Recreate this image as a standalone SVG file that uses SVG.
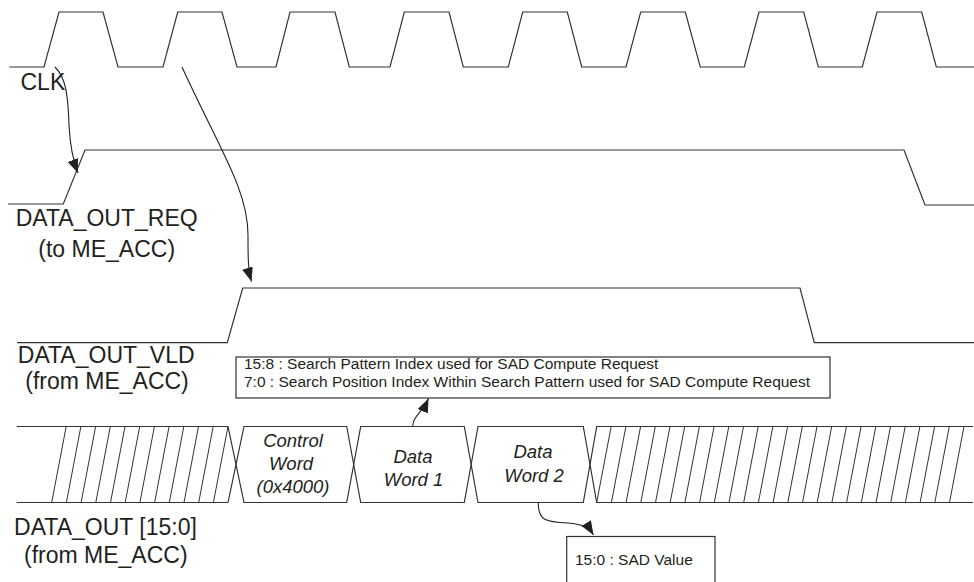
<svg xmlns="http://www.w3.org/2000/svg" width="974" height="582" viewBox="0 0 974 582">
<style>
  .wave { fill: none; stroke: #333; stroke-width: 1.2; stroke-linejoin: miter; }
  .hatch { fill: none; stroke: #333; stroke-width: 1; }
  .box { fill: #fff; stroke: #333; stroke-width: 1.2; }
  .lbl { font-family: "Liberation Sans", Arial, sans-serif; font-size: 23px; fill: #231f20; text-anchor: middle; }
  .cell { font-family: "Liberation Sans", Arial, sans-serif; font-size: 18.5px; font-style: italic; fill: #231f20; text-anchor: middle; }
  .note { font-family: "Liberation Sans", Arial, sans-serif; font-size: 15.5px; fill: #231f20; }
  .conn { fill: none; stroke: #231f20; stroke-width: 1.1; }
</style>
<defs>
  <marker id="ah" markerWidth="16" markerHeight="12" refX="14" refY="5.5" orient="auto" markerUnits="userSpaceOnUse">
    <path d="M0,0 L14,5.5 L0,11 Z" fill="#231f20"/>
  </marker>
</defs>
<rect width="974" height="582" fill="#fff"/>

<g id="clk">
  <path class="wave" d="M9.3,67 L44,67 L59,12 L103,12 L118,67 L163,67 L177.7,12 L222,12 L237,67 L276,67 L290,12 L335,12 L349.3,67 L390,67 L404.3,12 L449,12 L463.3,67 L508.3,67 L522.7,12 L567.3,12 L581.7,67 L626,67 L640.7,12 L685.3,12 L700.3,67 L744.3,67 L759,12 L803.7,12 L818.3,67 L862.3,67 L877,12 L921.7,12 L936.3,67 L974,67"/>
  <text class="lbl" x="20.5" y="89.5" style="text-anchor:start">CLK</text>
</g>

<g id="data_out_req">
  <path class="wave" d="M8,204 L63.3,204 L85,150 L904,150 L925,205 L974,205"/>
  <text class="lbl" x="106.7" y="225.7">DATA_OUT_REQ</text>
  <text class="lbl" x="106.7" y="256.7">(to ME_ACC)</text>
</g>

<g id="data_out_vld">
  <path class="wave" d="M17,342.7 L227.3,342.7 L242.7,288 L800,288 L814.3,342.7 L974,342.7"/>
  <text class="lbl" x="106.2" y="363.3">DATA_OUT_VLD</text>
  <text class="lbl" x="107" y="389.3">(from ME_ACC)</text>
</g>

<g id="index_note">
  <rect class="box" x="236" y="357" width="594" height="41"/>
  <text class="note" x="244" y="369">15:8 : Search Pattern Index used for SAD Compute Request</text>
  <text class="note" x="244" y="386.5">7:0 : Search Position Index Within Search Pattern used for SAD Compute Request</text>
</g>

<g id="data_out_bus">
  <path class="wave" d="M16.7,426.5 L228,426.5 M16.7,502.5 L228,502.5"/>
  <path class="hatch" d="M51.7,502.5 L66.2,426.5 M66.4,502.5 L80.9,426.5 M81.1,502.5 L95.6,426.5 M95.8,502.5 L110.3,426.5 M110.5,502.5 L125,426.5 M125.2,502.5 L139.7,426.5 M139.9,502.5 L154.4,426.5 M154.6,502.5 L169.1,426.5 M169.3,502.5 L183.8,426.5 M184,502.5 L198.5,426.5 M198.7,502.5 L213.2,426.5 M213.4,502.5 L228,426.5"/>
  <path class="wave" d="M228,426.5 L244,502.5 L346.7,502.5 L360.7,426.5 L464.3,426.5 L478,502.5 L583.3,502.5 L596.7,426.5 L973,426.5"/>
  <path class="wave" d="M228,502.5 L244,426.5 L346.7,426.5 L360.7,502.5 L464.3,502.5 L478,426.5 L583.3,426.5 L596.7,502.5 L973,502.5"/>
  <path class="hatch" d="M596.7,502.5 L611.2,426.5 M611.4,502.5 L625.9,426.5 M626.1,502.5 L640.6,426.5 M640.8,502.5 L655.3,426.5 M655.5,502.5 L670,426.5 M670.2,502.5 L684.7,426.5 M684.9,502.5 L699.4,426.5 M699.6,502.5 L714.1,426.5 M714.3,502.5 L728.8,426.5 M729,502.5 L743.5,426.5 M743.7,502.5 L758.2,426.5 M758.4,502.5 L772.9,426.5 M773.1,502.5 L787.6,426.5 M787.8,502.5 L802.3,426.5 M802.5,502.5 L817,426.5 M817.2,502.5 L831.7,426.5 M831.9,502.5 L846.4,426.5 M846.6,502.5 L861.1,426.5 M861.3,502.5 L875.8,426.5 M876,502.5 L890.5,426.5 M890.7,502.5 L905.2,426.5 M905.4,502.5 L919.9,426.5 M920.1,502.5 L934.6,426.5 M934.8,502.5 L949.3,426.5 M949.5,502.5 L964,426.5"/>
  <text class="cell" x="293" y="447">Control</text>
  <text class="cell" x="291" y="470">Word</text>
  <text class="cell" x="293" y="492.5">(0x4000)</text>
  <text class="cell" x="413" y="463.3">Data</text>
  <text class="cell" x="413.5" y="486">Word 1</text>
  <text class="cell" x="533" y="458.3">Data</text>
  <text class="cell" x="534" y="481.7">Word 2</text>
  <text class="lbl" x="105.5" y="535">DATA_OUT [15:0]</text>
  <text class="lbl" x="105.8" y="563.3">(from ME_ACC)</text>
</g>

<g id="sad_note">
  <rect class="box" x="566.7" y="536.5" width="148.3" height="60"/>
  <text class="note" x="575" y="565">15:0 : SAD Value</text>
</g>

<g id="connectors">
  <path class="conn" marker-end="url(#ah)" d="M55,67 C66,78 68,95 69,125 C70,145 72,158 78,173"/>
  <path class="conn" marker-end="url(#ah)" d="M182,67 C220,150 248,190 248,235 C248,258 248,270 251.5,281.5"/>
  <path class="conn" marker-end="url(#ah)" d="M412.7,426.5 C413,416 422,413 428.5,398.5"/>
  <path class="conn" marker-end="url(#ah)" d="M538.3,502.5 C538,520 545,522 568,523 C580,524 588,526 593.5,535"/>
</g>
</svg>
